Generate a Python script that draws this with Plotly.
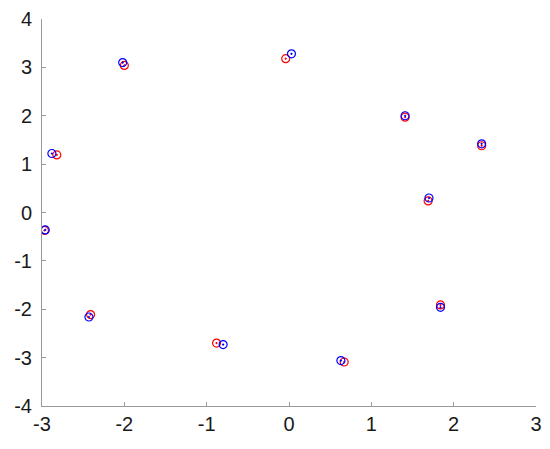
import plotly.graph_objects as go

# positions estimees (bleu = reference, rouge = estimation)
x_bleu = [0.03, -2.02, -2.88, -2.96, 1.41, 2.34, 1.70, 1.84, -0.80, 0.63, -2.43]
y_bleu = [3.28, 3.10, 1.22, -0.36, 2.00, 1.42, 0.30, -1.96, -2.73, -3.06, -2.16]
x_rouge = [-0.04, -2.00, -2.82, -2.97, 1.41, 2.34, 1.69, 1.84, -0.88, 0.67, -2.41]
y_rouge = [3.18, 3.04, 1.19, -0.37, 1.97, 1.38, 0.24, -1.91, -2.70, -3.09, -2.11]

x_ticks = [-3, -2, -1, 0, 1, 2, 3]
y_ticks = [-4, -3, -2, -1, 0, 1, 2, 3, 4]

fig = go.Figure()
fig.add_trace(go.Scatter(x=x_rouge, y=y_rouge, mode="markers",
                         marker=dict(symbol="circle-dot", size=8, color="rgba(0,0,0,0)",
                                     line=dict(width=1.2, color="#ff0000"))))
fig.add_trace(go.Scatter(x=x_bleu, y=y_bleu, mode="markers",
                         marker=dict(symbol="circle-dot", size=8, color="rgba(0,0,0,0)",
                                     line=dict(width=1.2, color="#0000ff"))))

axe = dict(showline=True, linecolor="#999999", linewidth=1, ticks="inside", ticklen=4,
           tickcolor="#999999", showgrid=False, zeroline=False, mirror=False, automargin=False,
           tickfont=dict(family="Liberation Sans, Arial", size=20, color="#1a1a1a"))
fig.update_xaxes(range=[-3, 3], tickvals=x_ticks, ticktext=[str(v) for v in x_ticks], **axe)
fig.update_yaxes(range=[-4, 4], tickvals=y_ticks, ticktext=[str(v) for v in y_ticks],
                 ticklabelstandoff=5, **axe)

# la page html ajoute 8px de marge autour de la figure
fig.update_layout(width=542, height=441, showlegend=False,
                  margin=dict(l=34, r=14, t=11, b=43),
                  plot_bgcolor="white", paper_bgcolor="white")
fig.write_html("out.html")
